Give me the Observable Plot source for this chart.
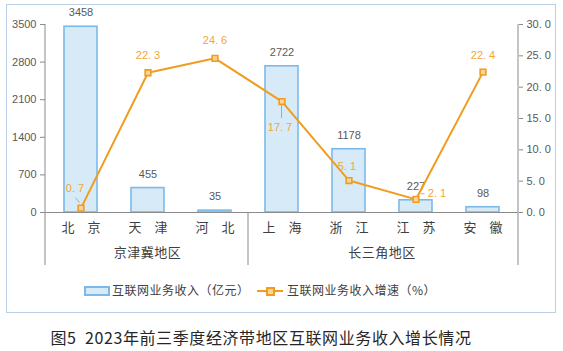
<!DOCTYPE html>
<html><head><meta charset="utf-8">
<script src="https://cdn.jsdelivr.net/npm/d3@7"></script>
<script src="https://cdn.jsdelivr.net/npm/@observablehq/plot@0.6"></script>
<style>
body{margin:0;background:#fff;width:563px;height:351px;position:relative;overflow:hidden;font-family:"Liberation Sans","Noto Sans CJK SC",sans-serif;}
#frame{position:absolute;left:6px;top:4px;width:548px;height:307px;border:1px solid #b9cfe6;}
#chart{position:absolute;left:0;top:0;}
.lt{position:absolute;font-size:12px;letter-spacing:0.5px;color:#404040;line-height:14px;white-space:nowrap;font-family:"Noto Sans CJK SC",sans-serif;}
#caption{position:absolute;left:0;width:522px;top:326px;text-align:center;font-size:16px;letter-spacing:0.6px;line-height:22px;color:#262626;font-family:"Noto Sans CJK SC",sans-serif;white-space:pre;}
</style></head><body>
<div id="frame"></div>
<div id="chart"></div>
<div id="legend"></div>
<div id="caption"></div>
<script>
const categories = ["北京","天津","河北","上海","浙江","江苏","安徽"];
const groups = ["京津冀地区","京津冀地区","京津冀地区","长三角地区","长三角地区","长三角地区","长三角地区"];
const revenue = [3458,455,35,2722,1178,227,98];
const growth = [0.7,22.3,24.6,17.7,5.1,2.1,22.4];
const revenueTicks = [0,700,1400,2100,2800,3500];
const growthTicks = [0,5,10,15,20,25,30];
const seriesNames = ["互联网业务收入（亿元）","互联网业务收入增速（%）"];
const captionText = "图5  2023年前三季度经济带地区互联网业务收入增长情况";

// label placement (style, not data)
const growthLabelOffsets = [[-6,-20],[0,-17],[0,-18],[-2,26],[-2,-14],[21,-6],[0,-17]];

const orange = "#f19c1f", orangeText = "#f2a53a";
const barFill = "#d7eaf8", barStroke = "#7cb9e8";
const gray = "#595959", axisGray = "#8a8a8a";
const k = 3500/30;
const fmt1 = v => d3.format(".1f")(v).replace(".", ". ");
const data = categories.map((c,i)=>({cat:c, rev:revenue[i], g:growth[i], gy:growth[i]*k, grp:groups[i]}));

const plot = Plot.plot({
  width:563, height:270, marginTop:24, marginBottom:58, marginLeft:45, marginRight:45,
  style:{fontSize:"11px", fontFamily:'"Liberation Sans","Noto Sans CJK SC",sans-serif', color:gray, background:"transparent", overflow:"visible"},
  x:{domain:categories, paddingInner:0.51, paddingOuter:0.255, axis:null},
  y:{domain:[0,3500], axis:null},
  marks:[
    Plot.axisY({ticks:revenueTicks, tickFormat:d3.format("d"), anchor:"left", tickSize:5, tickPadding:4, label:null, stroke:axisGray, fill:gray}),
    Plot.axisY({ticks:growthTicks.map(v=>v*k), tickFormat:v=>fmt1(v/k), anchor:"right", tickSize:4, tickPadding:4, label:null, stroke:axisGray, fill:gray}),
    Plot.axisX({anchor:"bottom", tickSize:0, tickPadding:10, label:null, tickFormat:c=>c[0]+"\u3000"+c[1], fill:"#404040", fontSize:13, fontFamily:'"Noto Sans CJK SC",sans-serif'}),
    Plot.barY(data, {x:"cat", y:"rev", fill:barFill, stroke:barStroke, strokeWidth:1.6}),
    Plot.ruleY([0], {stroke:axisGray, strokeWidth:1}),
    Plot.text(data, {x:"cat", y:"rev", text:d=>String(d.rev), dy:-14, fill:gray, fontSize:11}),
    Plot.line(data, {x:"cat", y:"gy", stroke:orange, strokeWidth:2}),
    Plot.dot(data, {x:"cat", y:"gy", symbol:"square", r:3.2, stroke:orange, strokeWidth:1.6, fill:"#fbd49a"}),
    ...data.map((d,i)=>Plot.text([d], {x:"cat", y:"gy", text:d=>fmt1(d.g), dx:growthLabelOffsets[i][0], dy:growthLabelOffsets[i][1], fill:orangeText, fontSize:11}))
  ]
});
document.getElementById("chart").appendChild(plot);

// structural lines and group labels from the scales
const xs = plot.scale("x"), ys = plot.scale("y");
const svg = d3.select(plot);
const step = xs.apply(categories[1]) - xs.apply(categories[0]);
const bw = xs.bandwidth ?? step*0.49;
const gap = step - bw;
const [x0, x1] = xs.range;
const yTop = ys.apply(3500), yBase = ys.apply(0), yLow = yBase + 53;
const g = svg.append("g").attr("stroke", axisGray).attr("stroke-width", 1);
g.append("line").attr("x1", x0).attr("x2", x0).attr("y1", yTop).attr("y2", yLow);
g.append("line").attr("x1", x1).attr("x2", x1).attr("y1", yTop).attr("y2", yLow);
const uniq = [...new Set(groups)];
uniq.forEach((grp, gi) => {
  const idx = groups.map((v,i)=>v===grp?i:-1).filter(i=>i>=0);
  const a = Math.max(x0, xs.apply(categories[idx[0]]) - gap/2);
  const b = Math.min(x1, xs.apply(categories[idx[idx.length-1]]) + bw + gap/2);
  if (gi > 0) g.append("line").attr("x1", a).attr("x2", a).attr("y1", yBase).attr("y2", yLow);
  svg.append("text").attr("x", (a+b)/2).attr("y", yBase + 45).attr("text-anchor","middle")
    .attr("fill", "#404040").attr("font-size", 13).attr("letter-spacing", 0.5).attr("font-family", '"Noto Sans CJK SC",sans-serif').text(grp);
});
// leader lines for a few growth labels
const lg = svg.append("g").attr("stroke", "#9a9a9a").attr("stroke-width", 0.8);
const cx = i => xs.apply(categories[i]) + bw/2, cy = i => ys.apply(growth[i]*k);
lg.append("line").attr("x1", cx(0)-1).attr("y1", cy(0)-5).attr("x2", cx(0)-5).attr("y2", cy(0)-10);
lg.append("line").attr("x1", cx(3)).attr("y1", cy(3)+4).attr("x2", cx(3)).attr("y2", cy(3)+17);
lg.append("line").attr("x1", cx(5)+5).attr("y1", cy(5)-5).attr("x2", cx(5)+9).attr("y2", cy(5)-5);

// legend
const leg = document.getElementById("legend");
leg.innerHTML = `
<div style="position:absolute;left:84px;top:286px;width:22px;height:6px;background:${barFill};border:2px solid ${barStroke}"></div>
<div class="lt" style="left:112px;top:283px">${seriesNames[0]}</div>
<div style="position:absolute;left:257px;top:290px;width:26px;height:2px;background:${orange}"></div>
<div style="position:absolute;left:266px;top:287px;width:5px;height:5px;background:#fbd49a;border:2px solid ${orange}"></div>
<div class="lt" style="left:287px;top:283px">${seriesNames[1]}</div>`;
document.getElementById("caption").textContent = captionText;
</script>
</body></html>
